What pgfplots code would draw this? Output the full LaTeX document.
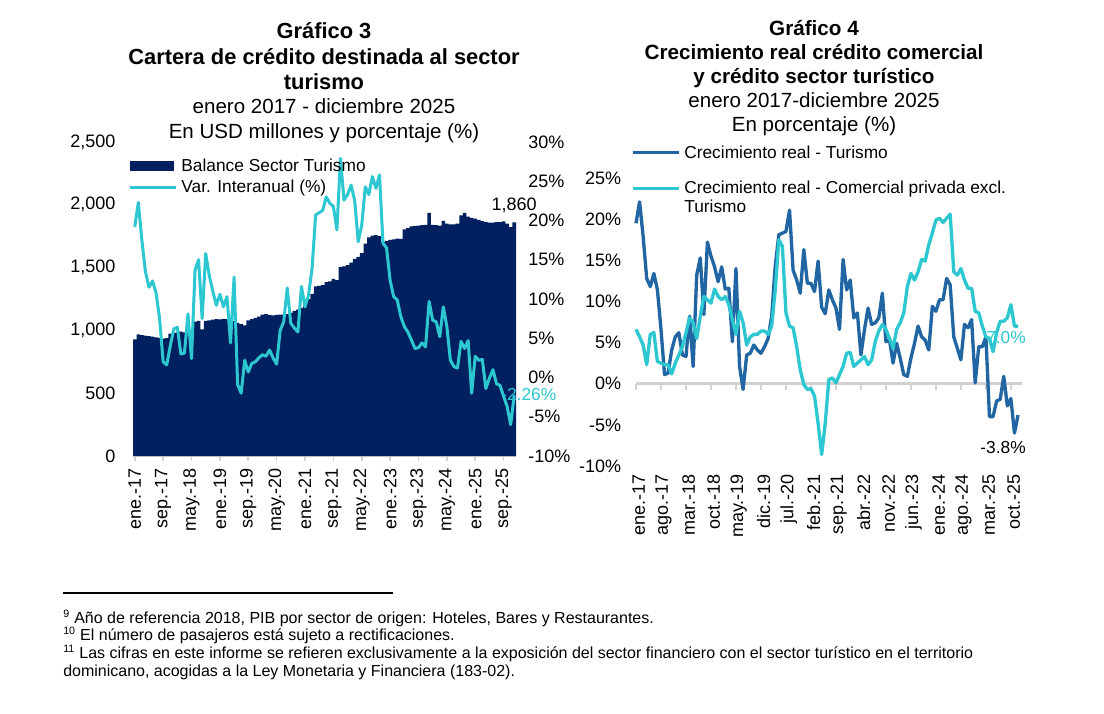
\documentclass[border=0pt]{standalone}
\usepackage{fontspec}
\setmainfont{Liberation Sans}
\usepackage{pgfplots}
\usepackage{pgfplotstable}
\pgfplotsset{compat=1.18}

\definecolor{navy}{RGB}{0,32,96}
\definecolor{cyanl}{RGB}{44,199,208}
\definecolor{steel}{RGB}{33,102,163}
\definecolor{axgray}{RGB}{210,210,210}

\newcommand{\fTbL}{\fontsize{16.4}{19}\selectfont\bfseries}
\newcommand{\fTbR}{\fontsize{15.5}{18}\selectfont\bfseries}
\newcommand{\fTrg}{\fontsize{15.4}{18}\selectfont}
\newcommand{\fTick}{\fontsize{13.5}{16}\selectfont}
\newcommand{\fLeg}{\fontsize{13}{15}\selectfont}
\newcommand{\fFoot}{\fontsize{12}{14}\selectfont}

\pgfplotstableread{
x y
-0.5 929
0 929
1 969
2 962
3 958
4 955
5 950
6 945
7 940
8 935
9 938
10 975
11 978
12 985
13 990
14 985
15 988
16 990
17 1070
18 1075
19 1008
20 1075
21 1080
22 1085
23 1090
24 1088
25 1092
26 1090
27 1088
28 1075
29 1060
30 1050
31 1040
32 1080
33 1090
34 1100
35 1110
36 1125
37 1130
38 1122
39 1120
40 1123
41 1125
42 1125
43 1130
44 1140
45 1155
46 1165
47 1180
48 1200
49 1250
50 1290
51 1350
52 1355
53 1360
54 1385
55 1390
56 1410
57 1400
58 1505
59 1510
60 1520
61 1540
62 1570
63 1585
64 1615
65 1690
66 1740
67 1755
68 1758
69 1750
70 1705
71 1712
72 1720
73 1725
74 1730
75 1728
76 1805
77 1815
78 1828
79 1830
80 1835
81 1838
82 1840
83 1935
84 1840
85 1838
86 1835
87 1873
88 1850
89 1845
90 1845
91 1850
92 1915
93 1935
94 1905
95 1895
96 1890
97 1880
98 1870
99 1862
100 1858
101 1858
102 1862
103 1862
104 1868
105 1850
106 1822
107 1860
107.5 1860
}\balance

\pgfplotstableread{
x y
0 19.2
1 22.3
2 17.5
3 13.5
4 11.5
5 12.3
6 10.8
7 7.5
8 2.0
9 1.6
10 4.0
11 6.2
12 6.4
13 3.0
14 3.1
15 8.1
16 2.4
17 13.7
18 15.0
19 7.5
20 15.8
21 13.0
22 11.0
23 9.2
24 10.6
25 9.0
26 10.3
27 4.4
28 12.8
29 -0.9
30 -2.0
31 2.2
32 0.7
33 1.8
34 2.0
35 2.5
36 2.9
37 2.7
38 3.5
39 2.5
40 1.7
41 6.0
42 7.1
43 11.4
44 6.9
45 6.3
46 5.8
47 11.6
48 9.0
49 10.5
50 13.9
51 20.7
52 21.0
53 21.3
54 23.0
55 22.2
56 21.8
57 18.8
58 27.9
59 22.6
60 23.3
61 24.5
62 22.6
63 17.3
64 19.4
65 24.3
66 23.3
67 25.6
68 24.1
69 25.8
70 17.1
71 16.5
72 12.4
73 10.3
74 9.9
75 7.8
76 6.5
77 5.8
78 4.8
79 3.7
80 3.8
81 4.4
82 3.9
83 9.7
84 7.3
85 7.1
86 5.2
87 9.0
88 6.5
89 2.2
90 1.4
91 1.2
92 4.6
93 3.7
94 4.7
95 -2.0
96 2.7
97 2.2
98 2.3
99 -1.4
100 -0.1
101 1.0
102 -0.8
103 -1.0
104 -2.4
105 -3.7
106 -6.0
107 -2.26
}\varia

\pgfplotstableread{
x tur com
0 19.5 6.6
1 22.1 5.7
2 17.9 4.7
3 12.8 2.3
4 11.8 6.0
5 13.4 6.2
6 11.4 2.7
7 6.6 2.5
8 1.1 2.3
9 1.3 2.3
10 4.1 1.2
11 5.7 2.5
12 6.2 3.5
13 3.5 4.5
14 3.3 6.2
15 8.2 8.0
16 2.1 7.4
17 13.2 5.5
18 15.3 8.2
19 8.4 10.6
20 17.2 10.2
21 15.5 9.8
22 14.2 11.5
23 12.4 10.6
24 14.2 10.2
25 11.5 10.6
26 11.6 9.6
27 5.1 7.8
28 14.0 6.0
29 2.1 8.8
30 -0.7 7.4
31 3.5 4.7
32 3.7 5.7
33 4.7 6.0
34 4.1 6.0
35 3.7 6.4
36 4.5 6.4
37 5.5 6.0
38 8.2 7.0
39 14.3 11.4
40 18.1 17.5
41 18.3 16.7
42 18.5 8.6
43 21.1 7.0
44 13.8 6.8
45 12.6 4.5
46 11.0 1.7
47 16.3 -0.1
48 12.2 -0.7
49 12.2 -0.6
50 11.2 -1.5
51 14.9 -4.8
52 9.3 -8.6
53 8.5 -4.8
54 11.4 0.5
55 10.2 0.7
56 9.2 0.1
57 6.6 1.1
58 15.1 2.1
59 11.4 3.7
60 12.6 3.8
61 8.0 2.1
62 8.6 2.5
63 3.5 2.9
64 6.6 3.3
65 9.2 2.3
66 7.2 2.9
67 7.4 5.1
68 8.0 6.4
69 11.0 7.2
70 5.1 6.6
71 5.3 5.5
72 2.5 4.3
73 4.9 6.6
74 3.1 7.4
75 1.1 8.6
76 0.9 11.8
77 3.1 13.4
78 4.9 12.6
79 7.0 13.6
80 5.7 15.1
81 5.3 14.9
82 4.1 16.9
83 9.4 18.3
84 8.8 19.9
85 10.2 20.1
86 10.2 19.6
87 12.8 20.1
88 12.0 20.6
89 5.7 13.6
90 4.3 13.2
91 2.9 14.0
92 7.2 12.6
93 6.8 11.6
94 7.8 11.6
95 0.1 8.8
96 4.5 8.6
97 4.5 7.0
98 5.7 5.7
99 -4.0 5.5
100 -4.0 3.9
101 -2.1 6.2
102 -1.9 7.6
103 0.9 7.6
104 -2.7 8.0
105 -1.8 9.6
106 -6.0 7.0
107 -3.8 7.0
}\crec

\begin{document}
\begin{tikzpicture}[x=0.75pt,y=-0.75pt]
\path[use as bounding box] (0,0) rectangle (1104,714);

% ---------- titles ----------
\node[font=\fTbL, anchor=base] at (324,38) {Gráfico 3};
\node[font=\fTbL, anchor=base] at (324,64) {Cartera de crédito destinada al sector};
\node[font=\fTbL, anchor=base] at (324,89) {turismo};
\node[font=\fTrg, anchor=base] at (324,113) {enero 2017 - diciembre 2025};
\node[font=\fTrg, anchor=base] at (324,138) {En USD millones y porcentaje (\%)};

\node[font=\fTbR, anchor=base] at (814,35) {Gráfico 4};
\node[font=\fTbR, anchor=base] at (814,59) {Crecimiento real crédito comercial};
\node[font=\fTbR, anchor=base] at (814,83) {y crédito sector turístico};
\node[font=\fTrg, anchor=base] at (814,107) {enero 2017-diciembre 2025};
\node[font=\fTrg, anchor=base] at (814,131) {En porcentaje (\%)};

% ---------- left chart: balance ----------
\begin{axis}[
  at={(99.75pt,-342pt)}, anchor=south west, scale only axis,
  width=287.25pt, height=235.5pt, clip=false,
  xmin=-0.5, xmax=107.5, ymin=0, ymax=2500,
  axis x line*=bottom, axis y line*=left,
  y axis line style={draw=none},
  x axis line style={axgray, line width=1.5pt},
  xtick={0,8,...,104},
  xticklabels={ene.-17,sep.-17,may.-18,ene.-19,sep.-19,may.-20,ene.-21,sep.-21,may.-22,ene.-23,sep.-23,may.-24,ene.-25,sep.-25},
  xtick style={axgray, line width=1.2pt},
  tick align=outside, major tick length=4pt,
  ytick={0,500,...,2500},
  ytick style={draw=none},
  /pgf/number format/assume math mode=true,
  ticklabel style={font=\fTick, text=black},
  xticklabel style={rotate=90, anchor=east, inner sep=0pt, xshift=-5pt},
  yticklabel style={anchor=east, inner sep=0pt, xshift=-9pt, /pgf/number format/fixed, /pgf/number format/1000 sep={,}},
]
\addplot[draw=none, fill=navy, const plot mark mid] table[x=x,y=y]{\balance} \closedcycle;
\node[font=\fTick, yshift=13pt] at (axis cs:107,1860) {1,860};
\end{axis}

% ---------- left chart: variation ----------
\begin{axis}[
  at={(99.75pt,-342pt)}, anchor=south west, scale only axis,
  width=287.25pt, height=235.5pt, clip=false,
  xmin=-0.5, xmax=107.5, ymin=-10, ymax=30,
  axis x line=none, axis y line*=right,
  y axis line style={draw=none},
  ytick={-10,-5,...,30}, ytick style={draw=none},
  /pgf/number format/assume math mode=true,
  yticklabel={\pgfmathprintnumber{\tick}\%},
  yticklabel style={font=\fTick, anchor=west, inner sep=0pt, xshift=9pt},
  legend cell align=left,
  legend style={draw=none, fill=none, font=\fLeg, inner sep=0pt, outer sep=0pt,
    at={(-0.012,0.947)}, anchor=north west, row sep=5pt, column sep=3pt,
    nodes={inner sep=0pt}},
]
\addlegendimage{fill=navy, draw=none, legend image code/.code={\fill[navy] (0pt,-3.75pt) rectangle (33pt,3.75pt);}}
\addlegendentry{Balance Sector Turismo}
\addplot[cyanl, line width=2.25pt, line join=round,
  legend image code/.code={\draw[cyanl, line width=2.25pt] (0pt,0pt) -- (34.5pt,0pt);}]
  table[x=x,y=y]{\varia};
\addlegendentry{Var. Interanual (\%)}
\node[font=\fLeg, text=cyanl, xshift=10.9pt, yshift=0.3pt] at (axis cs:107,-2.26) {-2.26\%};
\end{axis}

% ---------- right chart: zero line ----------
\begin{axis}[
  at={(477pt,-349.5pt)}, anchor=south west, scale only axis,
  width=289.2pt, height=216pt,
  xmin=0, xmax=108, ymin=-10, ymax=25,
  axis x line=middle, axis y line=none,
  x axis line style={-, axgray, line width=2pt},
  xtick={0,7,...,105}, xticklabels={},
  xtick style={axgray, line width=1.5pt},
  tick align=outside, major tick length=4.5pt,
  ytick=\empty,
]
\addplot[draw=none] coordinates {(0,0) (108,0)};
\end{axis}

% ---------- right chart: lines ----------
\begin{axis}[
  at={(477pt,-349.5pt)}, anchor=south west, scale only axis,
  width=289.2pt, height=216pt, clip=false,
  xmin=0, xmax=108, ymin=-10, ymax=25,
  axis line style={draw=none}, tick style={draw=none},
  xtick={0,7,...,105},
  xticklabels={ene.-17,ago.-17,mar.-18,oct.-18,may.-19,dic.-19,jul.-20,feb.-21,sep.-21,abr.-22,nov.-22,jun.-23,ene.-24,ago.-24,mar.-25,oct.-25},
  ytick={-10,-5,...,25},
  /pgf/number format/assume math mode=true,
  yticklabel={\pgfmathprintnumber{\tick}\%},
  ticklabel style={font=\fTick, text=black},
  xticklabel style={rotate=90, anchor=east, inner sep=0pt, xshift=-6pt, yshift=-2pt},
  yticklabel style={anchor=east, inner sep=0pt, xshift=-11pt},
  legend cell align=left,
  legend style={draw=none, fill=none, font=\fLeg, inner sep=0pt, outer sep=0pt,
    at={(-0.013,1.113)}, anchor=north west, row sep=16pt, column sep=3pt,
    nodes={inner sep=0pt}},
]
\addplot[steel, line width=2.5pt, line join=round,
  legend image code/.code={\draw[steel, line width=2.5pt] (0pt,0pt) -- (34.5pt,0pt);}]
  table[x=x,y=tur]{\crec};
\addlegendentry{Crecimiento real - Turismo}
\addplot[cyanl, line width=2.5pt, line join=round,
  legend image code/.code={\draw[cyanl, line width=2.5pt] (0pt,0pt) -- (34.5pt,0pt);}]
  table[x=x,y=com]{\crec};
\addlegendentry{\rlap{\raisebox{-14.25pt}[0pt][0pt]{Turismo}}Crecimiento real - Comercial privada excl.}
\node[font=\fLeg, text=cyanl, xshift=-9pt, yshift=-8.8pt] at (axis cs:107,7.0) {7.0\%};
\node[font=\fLeg, xshift=-11.25pt, yshift=-24.5pt] at (axis cs:107,-3.8) {-3.8\%};
\end{axis}

% ---------- footnotes ----------
\draw[black, line width=1.2pt] (63,593) -- (393,593);
\node[font=\fFoot, anchor=base west, inner sep=0pt] at (63,623) {\textsuperscript{9} Año de referencia 2018, PIB por sector de origen: Hoteles, Bares y Restaurantes.};
\node[font=\fFoot, anchor=base west, inner sep=0pt] at (63,640) {\textsuperscript{10} El número de pasajeros está sujeto a rectificaciones.};
\node[font=\fFoot, anchor=base west, inner sep=0pt] at (63,658) {\textsuperscript{11} Las cifras en este informe se refieren exclusivamente a la exposición del sector financiero con el sector turístico en el territorio};
\node[font=\fFoot, anchor=base west, inner sep=0pt] at (63,676) {dominicano, acogidas a la Ley Monetaria y Financiera (183-02).};
\end{tikzpicture}
\end{document}
